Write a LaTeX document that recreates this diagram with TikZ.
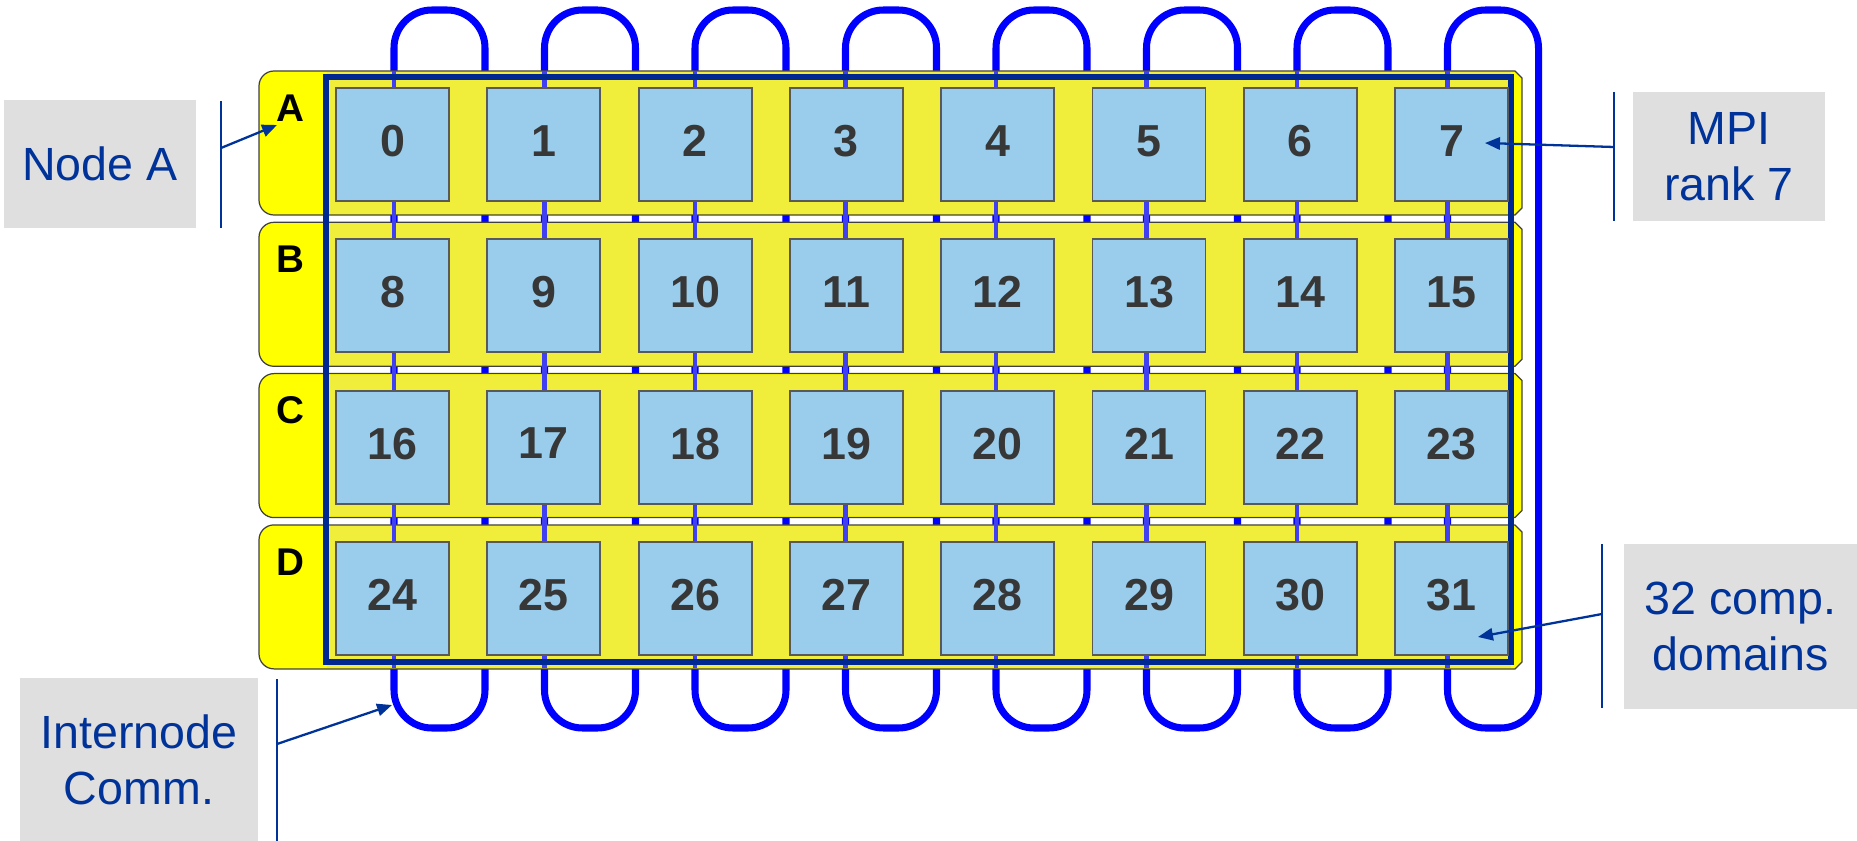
\documentclass[tikz,border=0pt]{standalone}
\usepackage{fontspec}
\setmainfont{Liberation Sans}
\usepackage{xcolor}
\usetikzlibrary{arrows.meta}

\definecolor{ringblue}{RGB}{0,0,255}
\definecolor{linkblue}{RGB}{64,64,240}
\definecolor{framenavy}{RGB}{0,40,145}
\definecolor{panelyellow}{RGB}{255,255,0}
\definecolor{inneryellow}{RGB}{240,238,58}
\definecolor{cellblue}{RGB}{154,205,236}
\definecolor{digitgrey}{RGB}{55,55,55}
\definecolor{calloutblue}{RGB}{0,51,153}
\definecolor{calloutgrey}{RGB}{223,223,223}

\begin{document}
\begin{tikzpicture}[x=0.02cm, y=-0.02cm,
  ring/.style={draw=ringblue, line width=4pt, rounded corners=0.76cm},
  link/.style={draw=linkblue, line width=2.8pt},
  board/.style={draw=black!75, line width=0.7pt},
  frame/.style={draw=framenavy, line width=3.3pt},
  cell/.style={draw=black!65, line width=1.1pt, fill=cellblue, inner sep=0pt,
    minimum width=2.26cm, minimum height=2.26cm, text=digitgrey, text depth=4pt,
    font=\fontsize{25.5}{25.5}\selectfont\bfseries},
  boardlabel/.style={inner sep=0pt, font=\fontsize{22}{22}\selectfont\bfseries},
  callout/.style={fill=calloutgrey, text=calloutblue, align=center, inner sep=0pt,
    font=\fontsize{26.5}{32}\selectfont},
  bracket/.style={draw=calloutblue, line width=1.5pt},
  pointer/.style={draw=calloutblue, line width=1.3pt, -{Triangle[length=8.5pt,width=7pt]}}]

  \useasboundingbox (0,0) rectangle (1857,841);

  % internode rings
  \foreach \c in {0,...,7}
    \draw[ring] (394+150.5*\c,10) rectangle (485+150.5*\c,728);

  % boards A-D
  \foreach \r/\n in {0/A,1/B,2/C,3/D}{
    \pgfmathsetmacro{\pt}{71+151.3*\r}
    \pgfmathsetmacro{\pb}{\pt+144}
    \draw[board, fill=panelyellow] (1515,\pt) -- (1522,\pt+7) -- (1522,\pb-7) -- (1515,\pb)
      [rounded corners=0.3cm] -- (259,\pb) -- (259,\pt) [sharp corners] -- cycle;
    \fill[inneryellow] (327,\pt+1.2) rectangle (1511,\pb-1.2);
    \node[boardlabel] (board\n) at (290,\pt+37) {\n};
  }

  % links down the columns
  \foreach \c in {0,...,7}{
    \coordinate (up\c) at (394+150.5*\c,71);
    \coordinate (dn\c) at (394+150.5*\c,668);
    \draw[link] (up\c) -- (dn\c);
  }
  \draw[frame] (326,77) rectangle (1511,662);

  % comp. domains
  \foreach \r in {0,...,3}
    \foreach \c in {0,...,7}{
      \pgfmathtruncatemacro{\k}{8*\r+\c}
      \node[cell] (d\k) at (392.5+151.3*\c,144.5+151.3*\r) {\k};
    }

  \node[callout, minimum width=3.84cm, minimum height=2.56cm] (nodeA) at (100,164) {Node A};
  \node[callout, minimum width=3.84cm, minimum height=2.58cm] (rank) at (1729,156.5) {MPI\\rank 7};
  \node[callout, minimum width=4.66cm, minimum height=3.3cm] (domains) at (1740.5,626.5) {32 comp.\\domains};
  \node[callout, minimum width=4.76cm, minimum height=3.26cm] (comm) at (139,759.5) {Internode\\Comm.};

  \draw[bracket] (221,101) -- (221,228);
  \draw[bracket] (1614,92) -- (1614,221);
  \draw[bracket] (1602,544) -- (1602,708);
  \draw[bracket] (277,679) -- (277,841);

  \coordinate (fromA) at (221,148);
  \coordinate (toA) at (277,125);
  \coordinate (fromrank) at (1614,147);
  \coordinate (torank) at (1485,143);
  \coordinate (fromdom) at (1602,614);
  \coordinate (todom) at (1478,637);
  \coordinate (fromcomm) at (277,744);
  \coordinate (tocomm) at (392,705);
  \draw[pointer] (fromA) -- (toA);
  \draw[pointer] (fromrank) -- (torank);
  \draw[pointer] (fromdom) -- (todom);
  \draw[pointer] (fromcomm) -- (tocomm);
\end{tikzpicture}
\end{document}
